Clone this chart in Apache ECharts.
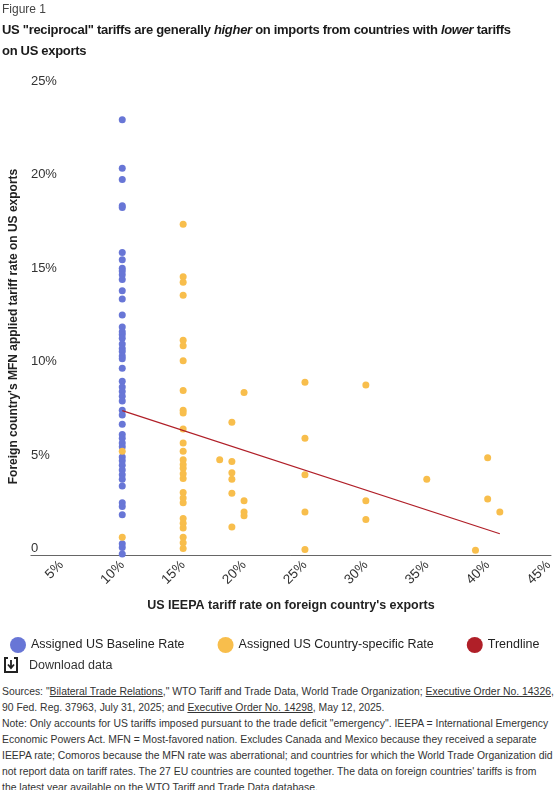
<!DOCTYPE html>
<html><head><meta charset="utf-8">
<script src="https://cdn.jsdelivr.net/npm/echarts@6/dist/echarts.min.js"></script>
<style>
body{margin:0;width:560px;height:790px;overflow:hidden;background:#fff;font-family:"Liberation Sans",Arial,sans-serif;color:#222;position:relative}
#chart{position:absolute;left:0;top:0;width:560px;height:680px}
#fig{position:absolute;left:2px;top:2px;font-size:12px;color:#444}
#title{position:absolute;left:2px;top:19px;font-size:13px;letter-spacing:-0.3px;font-weight:bold;line-height:21px;color:#1a1a1a;white-space:nowrap}
#dl{position:absolute;left:4px;top:657px;font-size:12.5px;color:#333;display:flex;align-items:center}
#dl svg{margin-right:11px}
#foot{position:absolute;left:2px;top:684px;font-size:10.4px;line-height:16px;color:#333;white-space:nowrap}
#foot u{text-decoration:underline}
</style>
</head><body>
<div id="chart"></div>
<div id="fig">Figure 1</div>
<div id="title">US "reciprocal" tariffs are generally <i>higher</i> on imports from countries with <i>lower</i> tariffs<br>on US exports</div>
<div id="dl"><svg width="14" height="16" viewBox="0 0 14 16"><path d="M4 1H1V15H13V1H10" fill="none" stroke="#222" stroke-width="2"/><path d="M7 3V10M4 7.5L7 11L10 7.5" fill="none" stroke="#222" stroke-width="1.8"/></svg>Download data</div>
<div id="foot">Sources: "<u>Bilateral Trade Relations</u>," WTO Tariff and Trade Data, World Trade Organization; <u>Executive Order No. 14326</u>,<br>90 Fed. Reg. 37963, July 31, 2025; and <u>Executive Order No. 14298</u>, May 12, 2025.<br>Note: Only accounts for US tariffs imposed pursuant to the trade deficit "emergency". IEEPA = International Emergency<br>Economic Powers Act. MFN = Most-favored nation. Excludes Canada and Mexico because they received a separate<br>IEEPA rate; Comoros because the MFN rate was aberrational; and countries for which the World Trade Organization did<br>not report data on tariff rates. The 27 EU countries are counted together. The data on foreign countries' tariffs is from<br>the latest year available on the WTO Tariff and Trade Data database.</div>
<script>
// US IEEPA rate (x) for the baseline group
const baselineIeepa = 10;
// MFN applied tariff rates of countries assigned the US baseline rate
const baselineMfn = [23.3,20.7,20.1,18.7,18.6,16.2,15.8,15.35,15.2,15.0,14.75,14.15,13.7,12.85,
  12.2,11.95,11.8,11.6,11.3,11.05,10.9,10.65,10.5,10.0,9.3,9.0,8.75,8.5,8.25,7.75,7.5,7.0,
  6.45,6.25,6.0,5.8,5.25,5.05,4.8,4.55,4.3,4.05,3.7,2.8,2.6,2.15,0.6,0.4,0.05];
// Countries assigned a country-specific rate: IEEPA rate and MFN rate
const specificIeepa = [10,10,
  15,15,15,15,15,15,15,15,15,15,15,15,15,15,15,15,15,15,15,15,15,15,15,15,15,15,15,
  18,19,19,19,19,19,19,20,20,20,20,25,25,25,25,25,30,30,30,35,39,40,40,41];
const specificMfn = [5.55,0.95,
  17.7,14.9,14.6,13.9,11.5,11.2,10.4,8.8,7.75,7.6,6.75,6.0,5.55,5.1,4.85,4.65,4.35,4.1,3.35,3.05,2.8,1.95,1.7,1.45,0.95,0.65,0.35,
  5.1,7.1,5.0,4.4,4.05,3.3,1.5,8.7,2.9,2.3,2.1,9.25,6.25,4.3,2.3,0.3,9.1,2.9,1.9,4.05,0.25,5.2,3.0,2.3];
// Trendline end points
const trendIeepa = [10, 41];
const trendMfn = [7.73, 1.14];
// Axis ticks
const xTickValues = [5,10,15,20,25,30,35,40,45];
const seriesNames = ['Assigned US Baseline Rate','Assigned US Country-specific Rate','Trendline'];
const colors = ['#6876d6','#f8be4c','#b01f28'];

const chart = echarts.init(document.getElementById('chart'), null, {renderer:'canvas'});
const font = '"Liberation Sans", Arial, sans-serif';
chart.setOption({
  animation:false,
  textStyle:{fontFamily:font},
  grid:{left:27,right:9,top:88,bottom:125,containLabel:false},
  legend:{
    data:seriesNames.map((n,i)=>({name:n,icon:'circle',itemStyle:{color:colors[i]}})),
    left:5, top:632, itemWidth:16, itemHeight:16, itemGap:33,
    textStyle:{fontSize:12.5,color:'#222',fontFamily:font}
  },
  xAxis:{
    type:'value', min:2.5, max:45.2,
    name:"US IEEPA tariff rate on foreign country's exports",
    nameLocation:'middle', nameGap:44,
    nameTextStyle:{fontWeight:'bold',fontSize:12.5,color:'#222'},
    axisLine:{show:true,lineStyle:{color:'#666',width:1}},
    axisTick:{show:false},
    splitLine:{show:false},
    axisLabel:{customValues:xTickValues, rotate:45, margin:8, fontSize:13.5, color:'#333', formatter:v=>v+'%'}
  },
  yAxis:{
    type:'value', min:0, max:25, interval:5,
    name:"Foreign country's MFN applied tariff rate on US exports",
    nameLocation:'middle', nameGap:7,
    nameTextStyle:{fontWeight:'bold',fontSize:12,color:'#222',padding:[0,10,0,0]},
    axisLine:{show:false}, axisTick:{show:false}, splitLine:{show:false},
    axisLabel:{inside:true, margin:0, verticalAlign:'bottom', fontSize:13, color:'#333',
      formatter:v=>v===0?'0':v+'%'}
  },
  series:[
    {name:seriesNames[0], type:'scatter', symbolSize:7, itemStyle:{color:colors[0],opacity:1},
      data:baselineMfn.map(v=>[baselineIeepa,v])},
    {name:seriesNames[1], type:'scatter', symbolSize:7, itemStyle:{color:colors[1],opacity:1},
      data:specificMfn.map((v,i)=>[specificIeepa[i],v])},
    {name:seriesNames[2], type:'line', symbol:'none', lineStyle:{color:colors[2],width:1.2},
      itemStyle:{color:colors[2]},
      data:trendIeepa.map((x,i)=>[x,trendMfn[i]])}
  ]
});
</script>
</body></html>
